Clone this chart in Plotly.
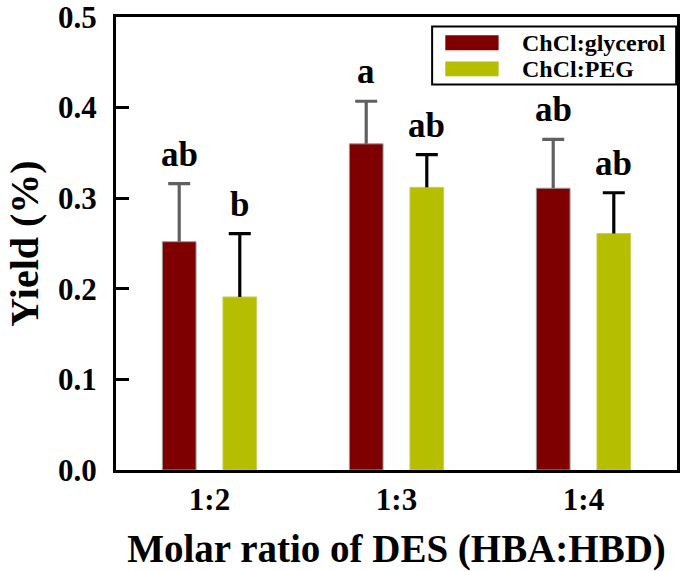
import plotly.graph_objects as go

categories = ["1:2", "1:3", "1:4"]
series_names = ["ChCl:glycerol", "ChCl:PEG"]
glycerol = [0.252, 0.360, 0.311]
glycerol_err = [0.064, 0.047, 0.054]
peg = [0.191, 0.312, 0.261]
peg_err = [0.070, 0.036, 0.045]
glycerol_letters = ["ab", "a", "ab"]
peg_letters = ["b", "ab", "ab"]
y_ticks = [0.0, 0.1, 0.2, 0.3, 0.4, 0.5]

FONT = "Liberation Serif"
colors = ["#7f0000", "#b6be00"]
edge_colors = ["#9a9a9a", "#c8cc60"]
err_colors = ["#606060", "#000000"]

fig = go.Figure()
series = [
    (series_names[0], glycerol, glycerol_err, colors[0], edge_colors[0], err_colors[0], "g"),
    (series_names[1], peg, peg_err, colors[1], edge_colors[1], err_colors[1], "p"),
]
for name, vals, errs, col, ecol_edge, ecol, grp in series:
    fig.add_trace(go.Bar(
        x=categories, y=vals, name=name, offsetgroup=grp,
        marker=dict(color=col, line=dict(color=ecol_edge, width=1)),
        showlegend=False,
    ))
# upper-only error bars: thin stem bar from value to value+err with a cap on top
for name, vals, errs, col, ecol_edge, ecol, grp in series:
    fig.add_trace(go.Bar(
        x=categories, y=errs, base=vals, offsetgroup=grp, width=0.017,
        marker=dict(color=ecol, line=dict(width=0)),
        error_y=dict(type="data", array=[0] * len(errs), color=ecol, thickness=3.2, width=11),
        showlegend=False, hoverinfo="skip",
    ))

# letters above error bars
off = 0.162
for i, cat in enumerate(categories):
    for vals, errs, letters, sgn in [(glycerol, glycerol_err, glycerol_letters, -1),
                                      (peg, peg_err, peg_letters, 1)]:
        fig.add_annotation(x=i + sgn * off, y=vals[i] + errs[i], text="<b>%s</b>" % letters[i],
                           showarrow=False, yanchor="bottom", yshift=8,
                           font=dict(family=FONT, size=35, color="black"))

# legend box
lx0, lx1, ly0, ly1 = 0.5635, 0.9985, 0.979, 0.851
fig.add_shape(type="rect", xref="paper", yref="paper", x0=lx0, x1=lx1, y0=ly1, y1=ly0,
              line=dict(color="black", width=2), fillcolor="white")
for k, (nm, col) in enumerate(zip(series_names, colors)):
    yc = 0.943 - k * 0.0575
    fig.add_shape(type="rect", xref="paper", yref="paper", x0=0.587, x1=0.682,
                  y0=yc - 0.0165, y1=yc + 0.0165, line=dict(width=0), fillcolor=col)
    fig.add_annotation(xref="paper", yref="paper", x=0.721, y=yc, text="<b>%s</b>" % nm,
                       showarrow=False, xanchor="left", yanchor="middle",
                       font=dict(family=FONT, size=24, color="black"))

fig.update_layout(
    width=685, height=571,
    margin=dict(l=116, r=8, t=17, b=101),
    plot_bgcolor="white", paper_bgcolor="white",
    barmode="group", bargap=0.352, bargroupgap=0.444,
    font=dict(family=FONT, color="black"),
    xaxis=dict(
        range=[-0.5, 2.5], showline=True, linecolor="black", linewidth=3, mirror=True,
        ticks="", tickfont=dict(family=FONT, size=31, color="black"), automargin=False,
        title=dict(text="<b>Molar ratio of DES (HBA:HBD)</b>", font=dict(family=FONT, size=39), standoff=20),
        tickprefix="<b>", ticksuffix="</b>",
    ),
    yaxis=dict(
        range=[0, 0.5], showline=True, linecolor="black", linewidth=3, mirror=True,
        ticks="inside", ticklen=13, tickwidth=3, tickcolor="black", automargin=False,
        tickvals=y_ticks, ticktext=["<b>%.1f</b>" % v for v in y_ticks],
        tickfont=dict(family=FONT, size=31, color="black"), ticklabelstandoff=10,
        ticklabeloverflow="allow",
        showgrid=False, zeroline=False,
        title=dict(text="<b>Yield (%)</b>", font=dict(family=FONT, size=40), standoff=8),
    ),
)
fig.write_html("out.html")
